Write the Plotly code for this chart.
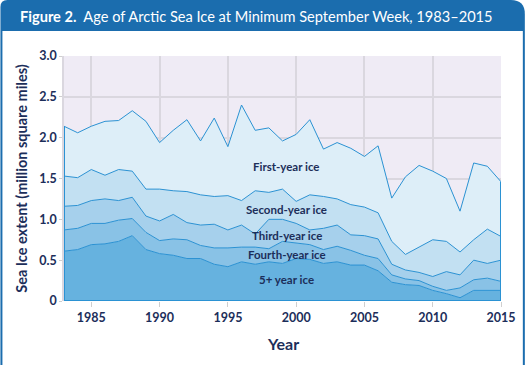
import plotly.graph_objects as go

years = list(range(1983, 2016))

five_plus = [0.61, 0.63, 0.69, 0.70, 0.73, 0.80, 0.63, 0.58, 0.56, 0.52, 0.52, 0.45, 0.42,
             0.48, 0.45, 0.48, 0.46, 0.52, 0.51, 0.46, 0.48, 0.44, 0.44, 0.37, 0.23, 0.20,
             0.19, 0.13, 0.09, 0.04, 0.13, 0.13, 0.13]
fourth_year = [0.26, 0.26, 0.26, 0.25, 0.26, 0.21, 0.21, 0.16, 0.20, 0.23, 0.16, 0.20, 0.23,
               0.18, 0.21, 0.16, 0.27, 0.19, 0.18, 0.17, 0.19, 0.18, 0.12, 0.15, 0.09, 0.07,
               0.06, 0.05, 0.04, 0.12, 0.13, 0.15, 0.11]
third_year = [0.29, 0.28, 0.28, 0.30, 0.24, 0.26, 0.20, 0.24, 0.30, 0.21, 0.25, 0.29, 0.22,
              0.27, 0.16, 0.36, 0.27, 0.24, 0.18, 0.26, 0.26, 0.19, 0.24, 0.24, 0.13, 0.11,
              0.10, 0.12, 0.23, 0.16, 0.24, 0.18, 0.26]
second_year = [0.37, 0.34, 0.38, 0.29, 0.38, 0.32, 0.33, 0.39, 0.29, 0.38, 0.37, 0.34, 0.42,
               0.30, 0.53, 0.33, 0.37, 0.27, 0.43, 0.39, 0.32, 0.37, 0.35, 0.32, 0.28, 0.19,
               0.31, 0.45, 0.37, 0.28, 0.25, 0.42, 0.29]
first_year = [0.61, 0.55, 0.53, 0.66, 0.60, 0.74, 0.83, 0.57, 0.74, 0.88, 0.66, 0.96, 0.60,
              1.17, 0.74, 0.79, 0.59, 0.82, 0.92, 0.58, 0.69, 0.69, 0.62, 0.82, 0.53, 0.95,
              1.00, 0.84, 0.77, 0.50, 0.94, 0.77, 0.67]

series_names = ["5+ year ice", "Fourth-year ice", "Third-year ice", "Second-year ice", "First-year ice"]
series_values = [five_plus, fourth_year, third_year, second_year, first_year]
fill_colors = ["#66B2DF", "#89C2E6", "#A6D0EC", "#C2E0F2", "#DDEEF8"]
label_years = [1999.3, 1999.3, 1999.3, 1999.3, 1999.3]
label_levels = [0.26, 0.57, 0.80, 1.12, 1.65]

x_ticks = [1985, 1990, 1995, 2000, 2005, 2010, 2015]
y_ticks = [0, 0.5, 1.0, 1.5, 2.0, 2.5, 3.0]
y_tick_labels = ["0", "0.5", "1.0", "1.5", "2.0", "2.5", "3.0"]

NAVY = "#1C2E5A"
LINE = "#2B92D3"
FRAME = "#1B6DAE"
FONT = "Lato"

W, H = 528, 365
ML, MR, MT, MB = 64, 24, 56, 64
PW, PH = W - ML - MR, H - MT - MB


def px_x(px):
    return (px - ML) / PW


def px_y(py):
    return (H - MB - py) / PH


fig = go.Figure()
for name, vals, col in zip(series_names, series_values, fill_colors):
    fig.add_trace(go.Scatter(
        x=years, y=vals, name=name, stackgroup="ice", mode="lines",
        line=dict(color=LINE, width=1), fillcolor=col, showlegend=False,
        hoverinfo="skip"))

totals = [sum(v) for v in zip(*series_values)]
fig.add_trace(go.Scatter(
    x=[years[0], years[0], None, years[-1], years[-1], None, years[0], years[-1]],
    y=[0, totals[0], None, 0, totals[-1], None, 0, 0],
    mode="lines", line=dict(color=LINE, width=2), showlegend=False, hoverinfo="skip"))

for name, lx, ly in zip(series_names, label_years, label_levels):
    fig.add_annotation(x=lx, y=ly, text="<b>" + name + "</b>", showarrow=False,
                       font=dict(family=FONT, size=11.5, color=NAVY))

# frame: title bar with rounded top corners and side borders
x0, x1 = px_x(0), px_x(W)
yt, yb = px_y(0), px_y(31)
rx = 14 / PW
ry = 14 / PH
path = (f"M {x0},{yb} L {x0},{yt - ry*0.5} Q {x0},{yt} {x0 + rx*0.5},{yt} "
        f"L {x1 - rx},{yt} Q {x1},{yt} {x1},{yt - ry} L {x1},{yb} Z")
fig.add_shape(type="path", path=path, xref="paper", yref="paper",
              fillcolor=FRAME, line=dict(width=0), layer="above")
fig.add_shape(type="line", xref="paper", yref="paper", x0=px_x(1), x1=px_x(1),
              y0=px_y(31), y1=px_y(H), line=dict(color=FRAME, width=2))
fig.add_shape(type="line", xref="paper", yref="paper", x0=px_x(W - 1), x1=px_x(W - 1),
              y0=px_y(31), y1=px_y(H), line=dict(color=FRAME, width=2))

fig.add_annotation(xref="paper", yref="paper", x=px_x(18), y=px_y(16),
                   xanchor="left", yanchor="middle", showarrow=False,
                   text="<b>Figure 2.</b>  Age of Arctic Sea Ice at Minimum September Week, 1983\u20132015",
                   font=dict(family=FONT, size=14.6, color="white"))

fig.add_annotation(xref="paper", yref="paper", x=px_x(21), y=0.5,
                   xanchor="center", yanchor="middle", textangle=-90, showarrow=False,
                   text="<b>Sea Ice extent (million square miles)</b>",
                   font=dict(family=FONT, size=14.5, color=NAVY))
fig.add_annotation(xref="paper", yref="paper", x=0.5, y=px_y(343),
                   xanchor="center", yanchor="middle", showarrow=False,
                   text="<b>Year</b>", font=dict(family=FONT, size=16, color=NAVY))

fig.update_layout(
    width=W, height=H,
    margin=dict(l=ML, r=MR, t=MT, b=MB),
    paper_bgcolor="white", plot_bgcolor="#EFEBF5",
    font=dict(family=FONT, color=NAVY),
    xaxis=dict(range=[years[0], years[-1]], tickvals=x_ticks,
               ticktext=["<b>%d</b>" % t for t in x_ticks],
               tickfont=dict(size=12.5, color=NAVY),
               showgrid=True, gridcolor="#DAD7DF", gridwidth=1.5,
               ticks="outside", ticklen=5, tickcolor="#CFCFCF", zeroline=False,
               showline=False),
    yaxis=dict(range=[0, 3], tickvals=y_ticks,
               ticktext=["<b>%s</b>" % t for t in y_tick_labels],
               tickfont=dict(size=12.5, color=NAVY),
               showgrid=True, gridcolor="#DAD7DF", gridwidth=1.5,
               ticks="outside", ticklen=3, tickcolor="#CFCFCF", zeroline=False,
               showline=True, linecolor="#DAD7DF", linewidth=1.5),
)

fig.write_html("out.html", config={"displayModeBar": False},
               post_script="document.body.style.margin='0';document.body.style.overflow='hidden';")
